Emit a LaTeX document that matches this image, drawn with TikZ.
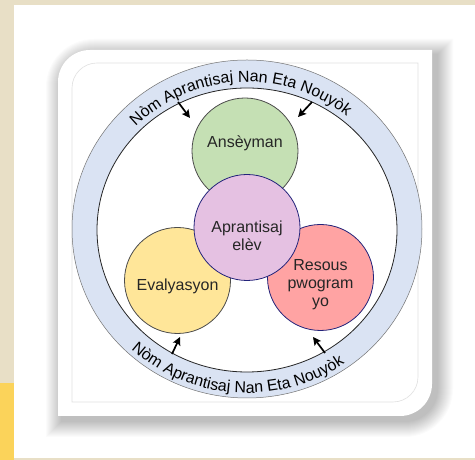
\documentclass[tikz,border=0pt]{standalone}
\usepackage{fontspec}
\setmainfont{Liberation Sans}
\usetikzlibrary{arrows.meta,decorations.text}
\definecolor{parch}{HTML}{E8DFC6}
\definecolor{stripyellow}{HTML}{FBD35A}
\definecolor{ringblue}{HTML}{DAE3F3}
\definecolor{ansgreen}{HTML}{C5E0B4}
\definecolor{elevpurple}{HTML}{E5C1E2}
\definecolor{evalyellow}{HTML}{FFE699}
\definecolor{respink}{HTML}{FFA3A3}
\definecolor{navy}{HTML}{23237A}
\newcommand{\ringfont}{\fontsize{16}{18}\selectfont}
\begin{document}
\begin{tikzpicture}[x=1pt,y=1pt,
  ball/.style={circle,draw,line width=0.8pt,minimum size=106pt,inner sep=0pt},
  lbl/.style={font=\fontsize{16}{18}\selectfont,text=black!85,align=center,inner sep=0pt},
  arr/.style={-{Stealth[length=8pt,width=8pt,inset=1.5pt]},line width=1.7pt}]
\useasboundingbox (0,0) rectangle (475,460);
\fill[parch] (0,0) rectangle (475,460);
\fill[stripyellow] (0,0) rectangle (14,77);
\fill[white] (14,2) rectangle (475,455);
% shadow of the card
\foreach \d in {1,...,16}
  \fill[black,opacity=0.016] (62-\d,39-\d) -- (62-\d,373) arc[start angle=180,end angle=90,radius=32+\d] -- (437+\d,405+\d) -- (437+\d,71) arc[start angle=0,end angle=-90,radius=32+\d] -- cycle;
% card
\fill[white] (58,44) -- (58,378) arc[start angle=180,end angle=90,radius=32] -- (432,410) -- (432,76) arc[start angle=0,end angle=-90,radius=32] -- cycle;
\draw[black!12,line width=0.6pt] (72,58) -- (72,372) arc[start angle=180,end angle=90,radius=25] -- (418,397) -- (418,83) arc[start angle=0,end angle=-90,radius=25] -- cycle;
% ring
\fill[ringblue,even odd rule] (247,231) ellipse[x radius=175,y radius=169] (247,230) ellipse[x radius=150,y radius=142];
\draw[black!55,line width=0.5pt] (247,231) ellipse[x radius=175,y radius=169];
\draw[black!85,line width=0.8pt] (247,230) ellipse[x radius=150,y radius=142];
\path[decorate,decoration={text along path,text align=center,
  text={|\ringfont|Nòm Aprantisaj Nan Eta Nouyòk}}]
  (247,231) ++(181:155 and 147) arc[start angle=181,end angle=5,x radius=155,y radius=147];
\path[decorate,decoration={text along path,text align=center,
  text={|\ringfont|Nòm Aprantisaj Nan Eta Nouyòk}}]
  (247,231) ++(186:170 and 164) arc[start angle=186,end angle=346,x radius=170,y radius=164];
% circles
\node[ball,fill=ansgreen,draw=black!70] (ans) at (245,309) {};
\node[ball,fill=evalyellow,draw=black!70] (eval) at (177.5,179.5) {};
\node[ball,fill=respink,draw=navy] (res) at (320.5,182.5) {};
\node[ball,fill=elevpurple,draw=navy] (elev) at (247,232.5) {};
\node[lbl] (ansT) at ([yshift=8pt]ans.center) {Ansèyman};
\node[lbl] (evalT) at ([yshift=-6pt]eval.center) {Evalyasyon};
\node[lbl] (resT) at ([yshift=-7pt]res.center) {Resous\\pwogram\\yo};
\node[lbl] (elevT) at ([yshift=-8pt]elev.center) {Aprantisaj\\elèv};
% arrows from the ring
\coordinate (tlA) at (178,358); \coordinate (tlB) at (190,342);
\coordinate (trA) at (312,358); \coordinate (trB) at (298,343);
\coordinate (blA) at (172,106); \coordinate (blB) at (180,123);
\coordinate (brA) at (325,107); \coordinate (brB) at (313,123);
\draw[arr] (tlA) -- (tlB);
\draw[arr] (trA) -- (trB);
\draw[arr] (blA) -- (blB);
\draw[arr] (brA) -- (brB);
\end{tikzpicture}
\end{document}
